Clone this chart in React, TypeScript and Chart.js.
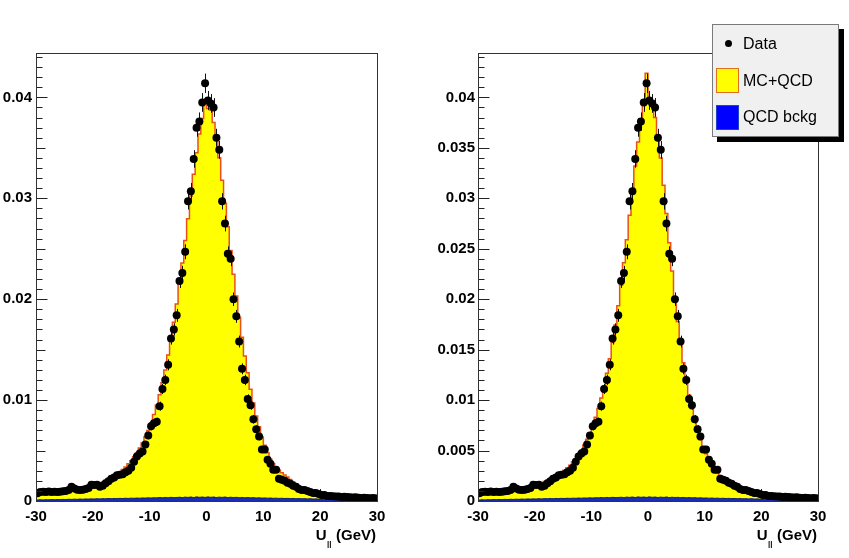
import React, { useEffect, useRef } from 'react';
import { Chart, registerables } from 'chart.js';

Chart.register(...registerables);

// ---------- data ----------
const X_MIN = -30;
const X_MAX = 30;
const BIN_WIDTH = 0.5;
const X_TICKS = [-30, -20, -10, 0, 10, 20, 30];

// measured data (same sample in both panels)
const DATA = [
  0.00076, 0.00088, 0.00092, 0.00090, 0.00094, 0.00088, 0.00092, 0.00090, 0.00092, 0.00096,
  0.00100, 0.00110, 0.00140, 0.00125, 0.00112, 0.00110, 0.00112, 0.00118, 0.00130, 0.00160,
  0.00158, 0.00160, 0.00142, 0.00150, 0.00175, 0.00195, 0.00220, 0.00232, 0.00255, 0.00260,
  0.00265, 0.00285, 0.00300, 0.00330, 0.00390, 0.00440, 0.00470, 0.00490, 0.00560, 0.00650,
  0.00740, 0.00770, 0.00785, 0.00940, 0.01110, 0.01200, 0.01350, 0.01610, 0.01700, 0.01840,
  0.02180, 0.02260, 0.02470, 0.02970, 0.03070, 0.03390, 0.03700, 0.03760, 0.03950, 0.04140,
  0.03970, 0.03940, 0.03900, 0.03600, 0.03480, 0.02970, 0.02750, 0.02450, 0.02400, 0.02000,
  0.01830, 0.01580, 0.01310, 0.01200, 0.01010, 0.00950, 0.00810, 0.00710, 0.00640, 0.00510,
  0.00510, 0.00410, 0.00370, 0.00310, 0.00310, 0.00220, 0.00210, 0.00200, 0.00180, 0.00170,
  0.00150, 0.00140, 0.00120, 0.00110, 0.00110, 0.00100, 0.00090, 0.00080, 0.00080, 0.00070,
  0.00060, 0.00060, 0.00050, 0.00050, 0.00048, 0.00045, 0.00045, 0.00040, 0.00042, 0.00040,
  0.00038, 0.00035, 0.00036, 0.00033, 0.00030, 0.00032, 0.00030, 0.00028, 0.00030, 0.00027,
];

const DATA_ERR = [
  0.00013, 0.00014, 0.00014, 0.00014, 0.00014, 0.00014, 0.00014, 0.00014, 0.00014, 0.00015,
  0.00015, 0.00016, 0.00017, 0.00016, 0.00016, 0.00016, 0.00016, 0.00016, 0.00017, 0.00019,
  0.00019, 0.00019, 0.00018, 0.00018, 0.00019, 0.00021, 0.00022, 0.00022, 0.00023, 0.00024,
  0.00024, 0.00025, 0.00026, 0.00027, 0.00029, 0.00031, 0.00032, 0.00033, 0.00035, 0.00038,
  0.00040, 0.00041, 0.00041, 0.00045, 0.00050, 0.00052, 0.00055, 0.00060, 0.00061, 0.00064,
  0.00069, 0.00071, 0.00074, 0.00081, 0.00082, 0.00087, 0.00090, 0.00091, 0.00093, 0.00096,
  0.00094, 0.00093, 0.00093, 0.00089, 0.00088, 0.00081, 0.00078, 0.00074, 0.00073, 0.00067,
  0.00064, 0.00059, 0.00054, 0.00052, 0.00047, 0.00046, 0.00043, 0.00040, 0.00038, 0.00034,
  0.00034, 0.00030, 0.00029, 0.00026, 0.00026, 0.00022, 0.00021, 0.00021, 0.00020, 0.00019,
  0.00018, 0.00018, 0.00016, 0.00016, 0.00016, 0.00015, 0.00014, 0.00013, 0.00013, 0.00012,
  0.00011, 0.00011, 0.00010, 0.00010, 0.00010, 0.00010, 0.00010, 0.00009, 0.00009, 0.00009,
  0.00009, 0.00009, 0.00009, 0.00008, 0.00008, 0.00008, 0.00008, 0.00008, 0.00008, 0.00008,
];

// MC+QCD, left panel
const MC_LEFT = [
  0.00068, 0.00072, 0.00075, 0.00075, 0.00079, 0.00080, 0.00083, 0.00084, 0.00088, 0.00091,
  0.00096, 0.00099, 0.00106, 0.00109, 0.00116, 0.00121, 0.00128, 0.00134, 0.00143, 0.00149,
  0.00158, 0.00167, 0.00179, 0.00189, 0.00203, 0.00215, 0.00233, 0.00249, 0.00269, 0.00289,
  0.00313, 0.00336, 0.00369, 0.00399, 0.00439, 0.00478, 0.00526, 0.00576, 0.00636, 0.00698,
  0.00776, 0.00858, 0.00952, 0.01053, 0.01172, 0.01298, 0.01447, 0.01598, 0.01772, 0.01953,
  0.02152, 0.02358, 0.02582, 0.02798, 0.03022, 0.03238, 0.03452, 0.03638, 0.03792, 0.03960,
  0.03890, 0.03875, 0.03752, 0.03598, 0.03402, 0.03178, 0.02952, 0.02718, 0.02482, 0.02248,
  0.02032, 0.01818, 0.01622, 0.01438, 0.01272, 0.01108, 0.00972, 0.00843, 0.00737, 0.00634,
  0.00552, 0.00478, 0.00415, 0.00372, 0.00338, 0.00308, 0.00281, 0.00258, 0.00238, 0.00212,
  0.00191, 0.00170, 0.00152, 0.00131, 0.00116, 0.00102, 0.00091, 0.00080, 0.00073, 0.00066,
  0.00059, 0.00054, 0.00049, 0.00046, 0.00043, 0.00041, 0.00039, 0.00037, 0.00035, 0.00034,
  0.00032, 0.00031, 0.00030, 0.00029, 0.00028, 0.00027, 0.00026, 0.00025, 0.00025, 0.00024,
];

// MC+QCD, right panel
const MC_RIGHT = [
  0.00070, 0.00073, 0.00077, 0.00077, 0.00081, 0.00082, 0.00086, 0.00087, 0.00091, 0.00095,
  0.00099, 0.00105, 0.00108, 0.00115, 0.00119, 0.00127, 0.00131, 0.00140, 0.00145, 0.00155,
  0.00161, 0.00172, 0.00180, 0.00193, 0.00203, 0.00218, 0.00231, 0.00249, 0.00264, 0.00285,
  0.00304, 0.00329, 0.00354, 0.00386, 0.00419, 0.00461, 0.00504, 0.00556, 0.00611, 0.00677,
  0.00747, 0.00829, 0.00917, 0.01021, 0.01134, 0.01266, 0.01409, 0.01571, 0.01744, 0.01936,
  0.02139, 0.02361, 0.02589, 0.02831, 0.03069, 0.03321, 0.03559, 0.03761, 0.03929, 0.04240,
  0.03970, 0.03920, 0.03800, 0.03620, 0.03400, 0.03130, 0.02850, 0.02560, 0.02280, 0.02020,
  0.01780, 0.01560, 0.01370, 0.01200, 0.01050, 0.00915, 0.00800, 0.00700, 0.00610, 0.00535,
  0.00468, 0.00410, 0.00360, 0.00318, 0.00282, 0.00252, 0.00226, 0.00204, 0.00185, 0.00168,
  0.00152, 0.00138, 0.00125, 0.00113, 0.00102, 0.00092, 0.00083, 0.00075, 0.00068, 0.00062,
  0.00057, 0.00053, 0.00049, 0.00046, 0.00043, 0.00041, 0.00039, 0.00037, 0.00035, 0.00034,
  0.00032, 0.00031, 0.00030, 0.00029, 0.00028, 0.00027, 0.00026, 0.00025, 0.00025, 0.00024,
];

// QCD background
const QCD = [
  0.00010, 0.00012, 0.00011, 0.00013, 0.00012, 0.00014, 0.00013, 0.00015, 0.00014, 0.00016,
  0.00015, 0.00017, 0.00016, 0.00018, 0.00017, 0.00019, 0.00018, 0.00020, 0.00019, 0.00021,
  0.00020, 0.00022, 0.00021, 0.00023, 0.00022, 0.00024, 0.00023, 0.00025, 0.00024, 0.00026,
  0.00025, 0.00027, 0.00026, 0.00028, 0.00027, 0.00029, 0.00028, 0.00030, 0.00029, 0.00031,
  0.00030, 0.00032, 0.00031, 0.00034, 0.00032, 0.00035, 0.00033, 0.00036, 0.00034, 0.00035,
  0.00037, 0.00034, 0.00038, 0.00036, 0.00039, 0.00035, 0.00040, 0.00037, 0.00039, 0.00036,
  0.00040, 0.00037, 0.00039, 0.00035, 0.00038, 0.00036, 0.00039, 0.00034, 0.00037, 0.00035,
  0.00036, 0.00033, 0.00035, 0.00032, 0.00034, 0.00031, 0.00033, 0.00030, 0.00031, 0.00029,
  0.00030, 0.00028, 0.00029, 0.00027, 0.00028, 0.00026, 0.00027, 0.00025, 0.00026, 0.00024,
  0.00025, 0.00023, 0.00024, 0.00022, 0.00023, 0.00021, 0.00022, 0.00020, 0.00021, 0.00019,
  0.00020, 0.00018, 0.00019, 0.00017, 0.00018, 0.00016, 0.00017, 0.00015, 0.00016, 0.00014,
  0.00015, 0.00013, 0.00014, 0.00012, 0.00013, 0.00011, 0.00012, 0.00010, 0.00011, 0.00009,
];

const LEGEND_LABELS = ['Data', 'MC+QCD', 'QCD bckg'];
const X_TITLE = 'U';
const X_TITLE_SUB = '||';
const X_TITLE_UNIT = '(GeV)';

// ---------- helpers ----------
const FONT = '"Liberation Sans", Arial, Helvetica, sans-serif';
const Y_MAX = 0.0444;

const histPoints = (vals: number[]) => {
  const pts = vals.map((v, i) => ({ x: X_MIN + i * BIN_WIDTH, y: v }));
  pts.push({ x: X_MAX, y: vals[vals.length - 1] });
  return pts;
};
const dataPoints = (vals: number[]) =>
  vals.map((v, i) => ({ x: X_MIN + (i + 0.5) * BIN_WIDTH, y: v }));

const rootAxes = {
  id: 'rootAxes',
  beforeDatasetsDraw(chart: any) {
    const { ctx, chartArea: a, scales } = chart;
    const x = scales.x;
    ctx.save();
    ctx.strokeStyle = '#222';
    ctx.lineWidth = 1;
    for (let k = X_MIN; k <= X_MAX; k += 2) {
      const px = Math.round(x.getPixelForValue(k)) + 0.5;
      const len = k % 10 === 0 ? 12 : 6;
      ctx.beginPath();
      ctx.moveTo(px, a.bottom);
      ctx.lineTo(px, a.bottom - len);
      ctx.stroke();
    }
    ctx.restore();
  },
  beforeDatasetDraw(chart: any, args: any) {
    const ds = chart.data.datasets[args.index];
    if (ds.label !== 'Data') return;
    const { ctx, scales } = chart;
    const y = scales.y;
    ctx.save();
    ctx.strokeStyle = '#111';
    ctx.lineWidth = 1;
    args.meta.data.forEach((p: any, i: number) => {
      const v = DATA[i];
      const e = DATA_ERR[i];
      const px = Math.round(p.x) + 0.5;
      ctx.beginPath();
      ctx.moveTo(px, y.getPixelForValue(v + e));
      ctx.lineTo(px, y.getPixelForValue(v - e));
      ctx.stroke();
    });
    ctx.restore();
  },
  afterDatasetsDraw(chart: any, _a: any, opts: any) {
    const { ctx, chartArea: a, scales } = chart;
    const y = scales.y;
    ctx.save();
    ctx.strokeStyle = '#222';
    ctx.lineWidth = 1;
    const majorK = opts.majorK; // in units of 0.001
    const midK = opts.midK;
    const left = Math.round(a.left) + 0.5;
    for (let k = 0; k <= 44; k++) {
      const py = Math.round(y.getPixelForValue(k / 1000)) + 0.5;
      let len = 6;
      if (k % majorK === 0) len = 11;
      else if (midK && k % midK === 0) len = 9;
      ctx.beginPath();
      ctx.moveTo(left, py);
      ctx.lineTo(left + len, py);
      ctx.stroke();
    }
    // frame
    ctx.strokeStyle = '#333';
    ctx.strokeRect(left, Math.round(a.top) + 0.5, Math.round(a.right - a.left), Math.round(a.bottom - a.top));
    ctx.restore();
  },
  afterDraw(chart: any) {
    const { ctx, chartArea: a } = chart;
    ctx.save();
    ctx.fillStyle = '#000';
    ctx.textBaseline = 'alphabetic';
    ctx.textAlign = 'right';
    const right = a.right - 1;
    ctx.font = `bold 15px ${FONT}`;
    ctx.fillText(X_TITLE_UNIT, right, 539.5);
    const wUnit = ctx.measureText(X_TITLE_UNIT).width;
    const subRight = right - wUnit - 4.5;
    ctx.font = `bold 8px ${FONT}`;
    ctx.fillText(X_TITLE_SUB, subRight, 546);
    const wSub = ctx.measureText(X_TITLE_SUB).width;
    ctx.font = `bold 15px ${FONT}`;
    ctx.fillText(X_TITLE, subRight - wSub - 0.5, 539.5);
    ctx.restore();
  },
};

type PanelProps = {
  left: number;
  width: number;
  mc: number[];
  axisWidth: number;
  padRight: number;
  yStep: number;
  majorK: number;
  midK: number;
  labelPad: number;
};

function Panel(props: PanelProps) {
  const ref = useRef<HTMLCanvasElement | null>(null);
  useEffect(() => {
    if (!ref.current) return;
    const tickFont = { family: FONT, size: 15, weight: 'bold' as const };
    const chart = new Chart(ref.current, {
      type: 'line',
      data: {
        datasets: [
          {
            label: 'Data',
            data: dataPoints(DATA),
            showLine: false,
            pointRadius: 4,
            pointHoverRadius: 4,
            pointBackgroundColor: '#000',
            pointBorderWidth: 0,
            order: 0,
          },
          {
            label: 'QCD bckg',
            data: histPoints(QCD),
            stepped: 'before',
            borderColor: '#101c78',
            borderWidth: 1,
            backgroundColor: '#1c2cb0',
            fill: 'origin',
            pointRadius: 0,
            order: 1,
          },
          {
            label: 'MC+QCD',
            data: histPoints(props.mc),
            stepped: 'before',
            borderColor: '#e8501a',
            borderWidth: 1.5,
            backgroundColor: '#ffff00',
            fill: 'origin',
            pointRadius: 0,
            order: 2,
          },
        ],
      } as any,
      options: {
        animation: false,
        responsive: false,
        devicePixelRatio: 1,
        events: [],
        layout: { padding: { left: 0, right: props.padRight, top: 53, bottom: 0 } },
        plugins: {
          legend: { display: false },
          tooltip: { enabled: false },
          rootAxes: { majorK: props.majorK, midK: props.midK },
        } as any,
        scales: {
          x: {
            type: 'linear',
            min: X_MIN,
            max: X_MAX,
            grid: { display: false, drawTicks: false },
            border: { display: false },
            afterBuildTicks: (s: any) => {
              s.ticks = X_TICKS.map((v) => ({ value: v }));
            },
            afterFit: (s: any) => {
              s.height = 57;
            },
            ticks: {
              font: tickFont,
              color: '#000',
              padding: 7,
              maxRotation: 0,
              autoSkip: false,
              callback: (v: any) => String(v),
            },
          },
          y: {
            type: 'linear',
            min: 0,
            max: Y_MAX,
            grid: { display: false, drawTicks: false },
            border: { display: false },
            afterFit: (s: any) => {
              s.width = props.axisWidth;
            },
            ticks: {
              stepSize: props.yStep,
              includeBounds: false,
              font: tickFont,
              color: '#000',
              padding: props.labelPad,
              autoSkip: false,
              callback: (v: any) => (Number(v) === 0 ? '0' : String(Number(Number(v).toFixed(4)))),
            },
          },
        },
      },
      plugins: [rootAxes],
    } as any);
    return () => chart.destroy();
  }, []);
  return (
    <canvas
      ref={ref}
      width={props.width}
      height={558}
      style={{ position: 'absolute', left: props.left, top: 0, width: props.width, height: 558 }}
    />
  );
}

function Legend() {
  const text: React.CSSProperties = {
    position: 'absolute',
    left: 30,
    fontFamily: FONT,
    fontSize: 16,
    lineHeight: '16px',
    color: '#000',
    whiteSpace: 'nowrap',
  };
  return (
    <div
      style={{
        position: 'absolute',
        left: 712,
        top: 24,
        width: 125,
        height: 111,
        background: '#f0f0f0',
        border: '1px solid #7a7a7a',
        boxShadow: '5px 5px 0 #000',
        zIndex: 2,
      }}
    >
      <div style={{ position: 'absolute', left: 12, top: 15, width: 7, height: 7, borderRadius: '50%', background: '#000' }} />
      <div style={{ ...text, top: 10.8 }}>{LEGEND_LABELS[0]}</div>
      <div style={{ position: 'absolute', left: 3, top: 43, width: 21, height: 23, background: '#ffff00', border: '1px solid #e07020' }} />
      <div style={{ ...text, top: 47.5 }}>{LEGEND_LABELS[1]}</div>
      <div style={{ position: 'absolute', left: 3, top: 80, width: 21, height: 23, background: '#0000ff', border: '1px solid #2040d0' }} />
      <div style={{ ...text, top: 83.8 }}>{LEGEND_LABELS[2]}</div>
    </div>
  );
}

export default function App() {
  return (
    <div style={{ position: 'absolute', left: 0, top: 0, width: 849, height: 558, background: '#fff', overflow: 'hidden' }}>
      <Panel left={0} width={420} mc={MC_LEFT} axisWidth={36} padRight={43} yStep={0.01} majorK={10} midK={5} labelPad={4} />
      <Panel left={420} width={429} mc={MC_RIGHT} axisWidth={58} padRight={31} yStep={0.005} majorK={5} midK={0} labelPad={3} />
      <Legend />
    </div>
  );
}
